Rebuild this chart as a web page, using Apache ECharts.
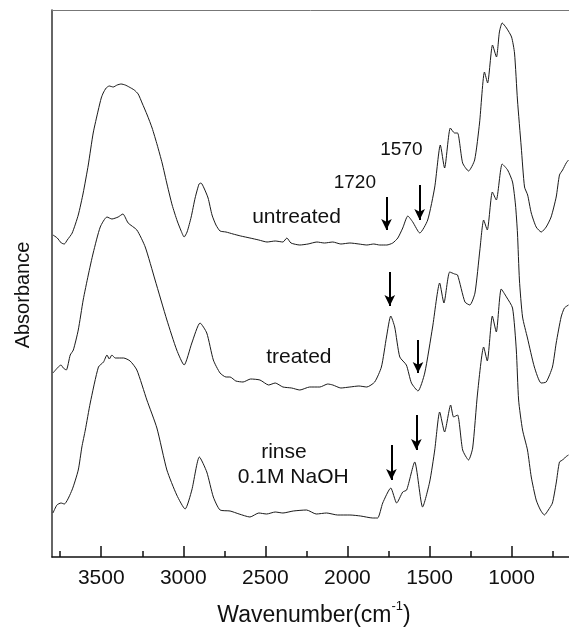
<!DOCTYPE html>
<html><head><meta charset="utf-8">
<script src="https://cdn.jsdelivr.net/npm/echarts@6/dist/echarts.min.js"></script>
<style>html,body{margin:0;padding:0;background:#fff}#c{width:569px;height:628px}</style>
</head><body><div id="c"></div>
<script>
// [wavenumber (cm-1), absorbance (offset, a.u.)]
const untreated = [
[3794,3.22],[3768,3.19],[3743,3.14],[3725,3.13],[3707,3.17],[3677,3.24],[3640,3.42],[3610,3.64],[3579,3.92],[3549,4.24],
[3518,4.47],[3500,4.59],[3488,4.64],[3470,4.69],[3451,4.71],[3427,4.70],[3403,4.72],[3379,4.73],[3354,4.72],[3330,4.70],
[3299,4.67],[3275,4.63],[3251,4.54],[3220,4.42],[3190,4.29],[3159,4.12],[3129,3.94],[3098,3.72],[3068,3.52],[3037,3.36],
[3013,3.26],[2995,3.20],[2977,3.25],[2952,3.40],[2928,3.59],[2904,3.73],[2892,3.74],[2874,3.69],[2849,3.59],[2825,3.42],
[2801,3.32],[2776,3.26],[2740,3.25],[2697,3.23],[2650,3.21],[2594,3.19],[2540,3.17],[2490,3.15],[2440,3.16],[2393,3.15],
[2369,3.19],[2344,3.14],[2290,3.12],[2240,3.13],[2186,3.15],[2140,3.14],[2089,3.15],[2040,3.13],[1985,3.14],[1930,3.13],
[1882,3.12],[1840,3.13],[1803,3.12],[1760,3.12],[1724,3.14],[1693,3.19],[1663,3.29],[1632,3.41],[1602,3.35],[1559,3.24],
[1511,3.37],[1468,3.70],[1434,4.12],[1408,3.89],[1373,4.29],[1347,4.24],[1329,4.24],[1298,3.94],[1262,3.86],[1225,3.97],
[1195,4.34],[1165,4.85],[1146,4.74],[1116,5.12],[1092,5.00],[1074,5.25],[1057,5.34],[1031,5.29],[1000,5.20],[982,5.04],
[964,4.57],[941,4.10],[921,3.70],[902,3.62],[880,3.44],[850,3.30],[819,3.25],[789,3.30],[759,3.40],[728,3.60],
[708,3.82],[689,3.87],[667,3.94],[653,3.97]
];
const treated = [
[3794,1.84],[3762,1.90],[3745,1.92],[3731,1.89],[3713,1.87],[3689,2.02],[3670,2.07],[3640,2.27],[3610,2.57],[3579,2.82],
[3549,3.04],[3506,3.30],[3465,3.40],[3435,3.38],[3397,3.40],[3368,3.43],[3336,3.34],[3283,3.27],[3232,3.10],[3172,2.77],
[3100,2.37],[3040,2.07],[2995,1.92],[2948,2.14],[2898,2.34],[2857,2.24],[2817,1.97],[2776,1.84],[2740,1.80],[2715,1.80],
[2680,1.76],[2636,1.75],[2590,1.78],[2533,1.77],[2480,1.72],[2440,1.74],[2393,1.70],[2340,1.69],[2290,1.67],[2230,1.70],
[2168,1.70],[2120,1.73],[2089,1.72],[2040,1.69],[1985,1.70],[1930,1.71],[1882,1.70],[1834,1.75],[1793,1.90],[1762,2.20],
[1736,2.41],[1712,2.30],[1681,2.00],[1641,1.92],[1610,1.74],[1570,1.66],[1529,1.84],[1481,2.30],[1438,2.74],[1412,2.54],
[1377,2.85],[1347,2.83],[1329,2.82],[1284,2.55],[1254,2.52],[1223,2.64],[1193,3.07],[1170,3.37],[1148,3.27],[1117,3.65],
[1093,3.57],[1057,3.93],[1024,3.87],[994,3.75],[976,3.52],[964,3.24],[952,2.77],[933,2.40],[903,2.19],[861,1.90],
[820,1.74],[789,1.75],[751,1.90],[728,2.14],[698,2.40],[678,2.49],[653,2.52]
];
const rinse = [
[3794,0.44],[3770,0.52],[3745,0.54],[3725,0.53],[3678,0.67],[3640,0.87],[3618,1.10],[3597,1.27],[3567,1.54],[3517,1.90],
[3486,1.95],[3465,2.02],[3451,1.98],[3435,2.02],[3415,1.99],[3364,1.99],[3324,1.96],[3283,1.87],[3222,1.57],[3161,1.29],
[3100,0.87],[3040,0.62],[2989,0.48],[2948,0.67],[2902,1.00],[2857,0.85],[2817,0.60],[2776,0.47],[2715,0.46],[2660,0.43],
[2594,0.40],[2540,0.44],[2492,0.43],[2440,0.45],[2393,0.44],[2330,0.46],[2249,0.47],[2190,0.43],[2127,0.44],[2060,0.42],
[1985,0.42],[1920,0.41],[1846,0.39],[1816,0.39],[1785,0.54],[1736,0.69],[1700,0.54],[1663,0.65],[1639,0.67],[1590,0.95],
[1542,0.50],[1499,0.75],[1468,1.07],[1438,1.45],[1408,1.25],[1371,1.52],[1353,1.40],[1329,1.42],[1298,1.07],[1262,0.97],
[1237,1.09],[1207,1.64],[1170,2.10],[1148,1.96],[1117,2.41],[1093,2.25],[1063,2.68],[1031,2.60],[994,2.49],[971,2.07],
[957,1.57],[933,1.27],[903,1.07],[880,0.80],[850,0.57],[824,0.47],[800,0.42],[776,0.47],[751,0.54],[728,0.74],
[708,0.95],[689,0.97],[671,1.00],[653,1.02]
];
// tick values
const majorTicks = [1000,1500,2000,2500,3000,3500];
const minorTicks = [750,1250,1750,2250,2750,3250,3750];
// arrows: [wavenumber, top, bottom]
const arrowsUntreated = [[1762,3.60,3.27],[1560,3.72,3.37]];
const arrowsTreated = [[1742,2.85,2.51],[1570,2.17,1.84]];
const arrowsRinse = [[1732,1.12,0.77],[1580,1.42,1.07]];
// annotations: [wavenumber, absorbance, text, fontSize]
const annotations = [
  [2310,3.40,'untreated',21],
  [2296,2.00,'treated',21],
  [2387,1.05,'rinse',21],
  [2330,0.80,'0.1M NaOH',21],
  [1955,3.74,'1720',19],
  [1671,4.07,'1570',19]
];
const FONT = '"Liberation Sans", Arial, Helvetica, sans-serif';
const chart = echarts.init(document.getElementById('c'), null, {renderer:'canvas'});
function arrowLine(arr){
  return {silent:true, symbol:['none','arrow'], symbolSize:[8,11], animation:false,
    lineStyle:{color:'#000', width:2, type:'solid'}, label:{show:false}, emphasis:{disabled:true},
    data: arr.map(a=>[{coord:[a[0],a[1]]},{coord:[a[0],a[2]]}])};
}
function curve(name, data, arrows){
  return {name, type:'line', data, showSymbol:false, symbol:'none', smooth:0.2,
    lineStyle:{color:'#1a1a1a', width:1}, animation:false, markLine: arrowLine(arrows)};
}
const xCommon = {type:'value', inverse:true, min:650, max:3800, splitLine:{show:false}};
chart.setOption({
  animation:false,
  grid:{left:52, right:0, top:10, bottom:71},
  xAxis:[
    Object.assign({}, xCommon, {position:'bottom',
      axisLine:{show:true, onZero:false, lineStyle:{color:'#111', width:1.5}},
      axisTick:{show:true, inside:true, length:11, customValues:majorTicks, lineStyle:{color:'#111', width:1.5}},
      axisLabel:{show:true, fontSize:21, color:'#111', fontFamily:FONT, margin:11, customValues:majorTicks,
        formatter: v => String(v)}}),
    Object.assign({}, xCommon, {position:'bottom',
      axisLine:{show:false},
      axisTick:{show:true, inside:true, length:6, customValues:minorTicks, lineStyle:{color:'#111', width:1.5}},
      axisLabel:{show:false}}),
    Object.assign({}, xCommon, {position:'top',
      axisLine:{show:true, onZero:false, lineStyle:{color:'#777', width:1}},
      axisTick:{show:false}, axisLabel:{show:false}})
  ],
  yAxis:{type:'value', min:0, max:5.47, axisLine:{show:true, onZero:false, lineStyle:{color:'#333', width:1.5}},
    axisTick:{show:false}, axisLabel:{show:false}, splitLine:{show:false}},
  series:[
    curve('untreated', untreated, arrowsUntreated),
    curve('treated', treated, arrowsTreated),
    curve('rinse', rinse, arrowsRinse)
  ]
});
const g = annotations.map(a => {
  const p = chart.convertToPixel({xAxisIndex:0, yAxisIndex:0}, [a[0], a[1]]);
  return {type:'text', x:p[0], y:p[1], silent:true,
    style:{text:a[2], fontSize:a[3], fontFamily:FONT, fill:'#111', align:'center', verticalAlign:'middle'}};
});
g.push({type:'text', x:314, y:616, silent:true,
  style:{text:'{a|Wavenumber(cm}{s|-1}{a|)}', align:'center', verticalAlign:'middle', fill:'#111',
    rich:{a:{fontSize:23, lineHeight:32, fontFamily:FONT, fill:'#111'},
          s:{fontSize:13, lineHeight:13, verticalAlign:'top', fontFamily:FONT, fill:'#111'}}}});
g.push({type:'text', x:23, y:295, rotation:Math.PI/2, silent:true,
  style:{text:'Absorbance', fontSize:20, fontFamily:FONT, fill:'#111', align:'center', verticalAlign:'middle'}});
chart.setOption({graphic:g});
</script></body></html>
